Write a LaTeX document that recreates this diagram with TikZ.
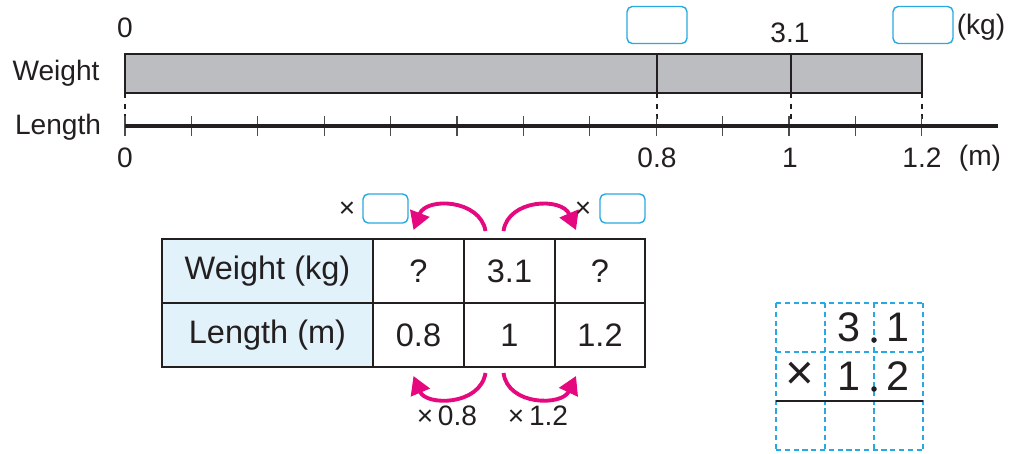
\documentclass[tikz,border=0pt]{standalone}
\usepackage{fontspec}
\setmainfont{Liberation Sans}
\usetikzlibrary{
    arrows.meta,
    positioning
}

\definecolor{barfill}{HTML}{BCBDC0}
\definecolor{headfill}{HTML}{E1F2FA}
\definecolor{boxblue}{HTML}{29A9E1}
\definecolor{arrowpink}{HTML}{E5087E}
\definecolor{ink}{HTML}{231F20}

\begin{document}
\begin{tikzpicture}[
        x=0.02cm, y=-0.02cm,
        every node/.style={text=ink, inner sep=0pt, outer sep=0pt},
        label/.style={font=\fontsize{16}{18}\selectfont},
        cell/.style={
            rectangle,
            draw=ink,
            line width=1.2pt,
            minimum height=1.28cm,
            font=\fontsize{18.5}{20}\selectfont
        },
        answer/.style={
            rectangle,
            rounded corners=3pt,
            draw=boxblue,
            line width=0.8pt,
            minimum width=1.2cm,
            minimum height=0.74cm
        },
        smallanswer/.style={
            answer,
            minimum width=0.9cm,
            minimum height=0.58cm
        },
        hop/.style={
            -{Triangle[length=3.6mm, width=4mm]},
            draw=arrowpink,
            line width=2.2pt
        },
        gridline/.style={
            draw=boxblue,
            line width=0.9pt,
            dash pattern=on 3pt off 2pt
        },
        digit/.style={font=\fontsize{23.5}{25}\selectfont},
        point/.style={circle, fill=ink, minimum size=0.11cm}
    ]

    \useasboundingbox (0,0) rectangle (1014,453);

    % tape diagram
    \fill[barfill] (125,54) rectangle (922,93);
    \draw[ink, line width=0.6pt] (657,54) -- (657,93);
    \draw[ink, line width=0.6pt] (791,54) -- (791,93);
    \draw[ink, line width=1.5pt] (125,54) rectangle (922,93);

    \foreach \x in {125,657,791,922}
        \draw[ink, line width=0.6pt, dashed] (\x,93) -- (\x,126);

    \foreach \i in {0,...,12}
        \draw[ink!80, line width=0.6pt] (125+66.4*\i,116) -- (125+66.4*\i,136);
    \draw[ink, line width=2.2pt] (125,126) -- (998,126);

    \node[label] (wtag) at (56,73) {Weight};
    \node[label] (ltag) at (58,127) {Length};
    \node[label] (wzero) at (125,28) {0};
    \node[label] (wmid) at (790,33) {3.1};
    \node[label] (wunit) at (981,27) {(kg)};
    \node[answer] (wbox1) at (657,25) {};
    \node[answer] (wbox2) at (923,25) {};

    \node[label] (lzero) at (125,158) {0};
    \node[label] (lpt8) at (657,158) {0.8};
    \node[label] (lone) at (790,158) {1};
    \node[label] (lpt12) at (922,158) {1.2};
    \node[label] (lunit) at (980,158) {(m)};

    % table
    \node[cell, fill=headfill, minimum width=4.22cm] (hw) at (267.5,271) {Weight (kg)};
    \node[cell, fill=headfill, minimum width=4.22cm] (hl) at (267.5,335) {Length (m)};
    \node[cell, minimum width=1.82cm] (wq1) at (418.5,271) {?};
    \node[cell, minimum width=1.82cm] (w31) at (509.5,271) {3.1};
    \node[cell, minimum width=1.80cm] (wq2) at (600,271) {?};
    \node[cell, minimum width=1.82cm] (l08) at (418.5,335) {0.8};
    \node[cell, minimum width=1.82cm] (l1) at (509.5,335) {1};
    \node[cell, minimum width=1.80cm] (l12) at (600,335) {1.2};

    \draw[hop] ([shift={(-24,-8)}]w31.north)
        .. controls (480,199) and (426,197) .. ([shift={(-5,-9)}]wq1.north);
    \draw[hop] ([shift={(-6,-8)}]w31.north)
        .. controls (508,199) and (562,197) .. ([shift={(-24,-9)}]wq2.north);
    \draw[hop] ([shift={(-24,6)}]l1.south)
        .. controls (480,406) and (426,406) .. ([shift={(-5,9)}]l08.south);
    \draw[hop] ([shift={(-6,6)}]l1.south)
        .. controls (508,406) and (562,406) .. ([shift={(-24,9)}]l12.south);

    \node[label] (ltimes) at (347,210) {×};
    \node[smallanswer] (lbox) at (385.5,208.5) {};
    \node[label] (rtimes) at (583,210) {×};
    \node[smallanswer] (rbox) at (622.5,208.5) {};
    \node[label] (by08) at (447,416) {×\,0.8};
    \node[label] (by12) at (538,416) {×\,1.2};

    % column multiplication grid
    \foreach \x in {776,825,874,923}
        \draw[gridline] (\x,303) -- (\x,450);
    \foreach \y in {303,352,401,450}
        \draw[gridline] (776,\y) -- (923,\y);
    \draw[ink, line width=0.8pt] (776,401) -- (923,401);

    \node[digit] (a3) at (849,327) {3};
    \node[point] (adot) at (874,340) {};
    \node[digit] (a1) at (898,327) {1};
    \node[digit, font=\fontsize{28}{30}\selectfont] (btimes) at (800,376) {×};
    \node[digit] (b1) at (849,376) {1};
    \node[point] (bdot) at (874,389) {};
    \node[digit] (b2) at (898,376) {2};

\end{tikzpicture}
\end{document}
